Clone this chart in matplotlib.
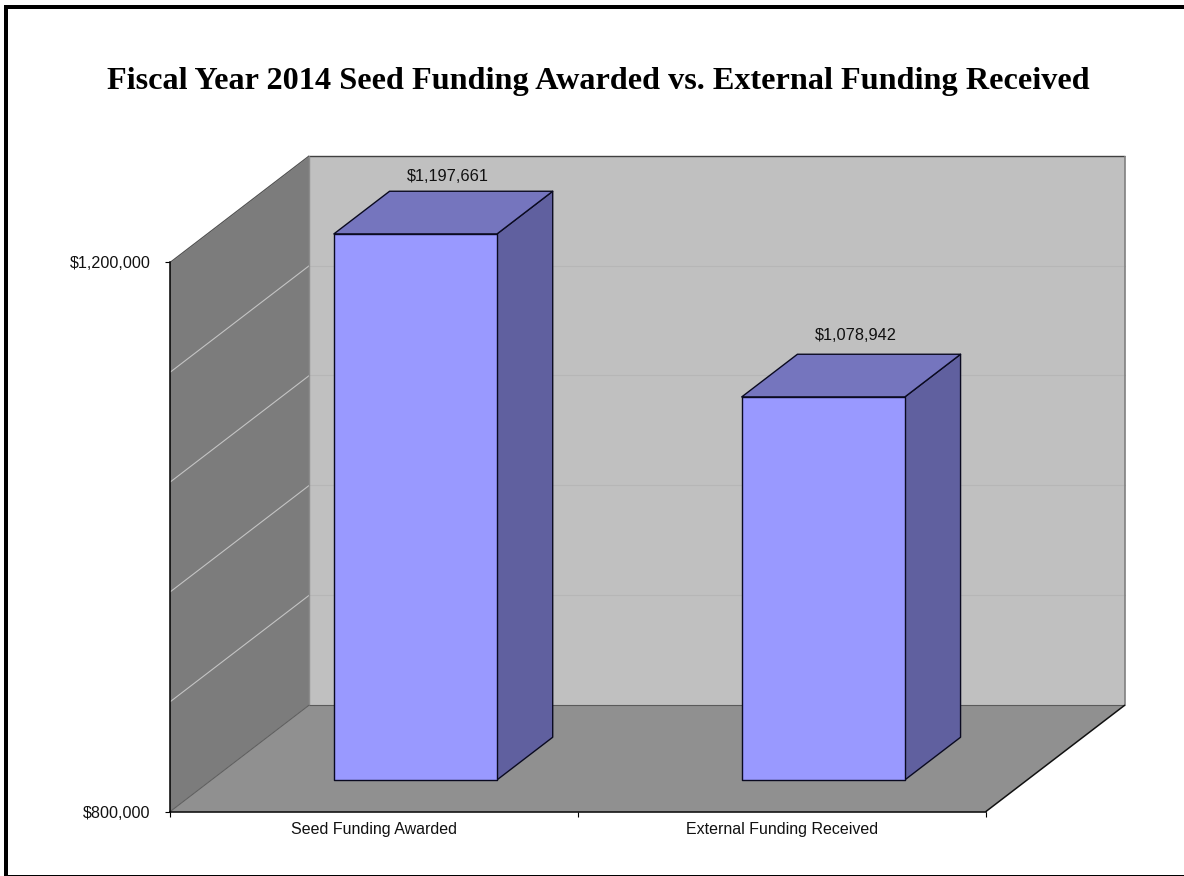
import matplotlib
matplotlib.use('Agg')
import matplotlib.pyplot as plt
from matplotlib.patches import Polygon, Rectangle
from matplotlib.ticker import FuncFormatter

categories = ['Seed Funding Awarded', 'External Funding Received']
values = [1197661, 1078942]
value_ticks = [800000, 1200000]
grid_values = [880000, 960000, 1040000, 1120000, 1200000]

Y_MIN, Y_MAX = 800000, 1200000
W, H = 1184, 876

# 3D look: how far the back of the box is shifted, in data units
DEPTH_X = 0.3415
DEPTH_Y = 77700
BAR_WIDTH = 0.4
BAR_FRONT, BAR_BACK = 0.298, 0.698

FACE = '#9999FF'
SIDE = '#60609F'
TOP = '#7575BE'
BACK_WALL = '#C0C0C0'
SIDE_WALL = '#7C7C7C'
FLOOR = '#909090'


def project(x, v, depth=0.0):
    return (x + depth * DEPTH_X, v + depth * DEPTH_Y)


def poly(ax, pts, color, edge='none', lw=0.0, z=1):
    p = Polygon(pts, closed=True, facecolor=color, edgecolor=edge, linewidth=lw,
                joinstyle='round', clip_on=False, zorder=z)
    ax.add_patch(p)


def line(ax, a, b, color, lw, z=2):
    ax.plot([a[0], b[0]], [a[1], b[1]], color=color, lw=lw, clip_on=False, zorder=z,
            solid_capstyle='butt')


def main():
    plt.rcParams['font.family'] = ['Liberation Sans', 'DejaVu Sans']

    fig = plt.figure(figsize=(W / 100, H / 100), dpi=100, facecolor='white')
    ax = fig.add_axes([170 / W, (H - 811.7) / H, 815.7 / W, 549.2 / H])
    ax.set_xlim(0, 2)
    ax.set_ylim(Y_MIN, Y_MAX)
    ax.patch.set_visible(False)

    # box walls and floor
    poly(ax, [project(0, Y_MIN, 1), project(2, Y_MIN, 1), project(2, Y_MAX, 1), project(0, Y_MAX, 1)], BACK_WALL)
    poly(ax, [project(0, Y_MIN), project(0, Y_MIN, 1), project(0, Y_MAX, 1), project(0, Y_MAX)], SIDE_WALL)
    poly(ax, [project(0, Y_MIN), project(2, Y_MIN), project(2, Y_MIN, 1), project(0, Y_MIN, 1)], FLOOR)

    # gridlines run along the side wall and across the back wall
    for v in grid_values:
        line(ax, project(0, v), project(0, v, 1), '#C4C4C4', 0.8)
        if v < Y_MAX:
            line(ax, project(0, v, 1), project(2, v, 1), '#B6B6B6', 0.8)

    # box edges
    line(ax, project(0, Y_MAX, 1), project(2, Y_MAX, 1), '#404040', 1.0)
    line(ax, project(0, Y_MAX), project(0, Y_MAX, 1), '#505050', 0.8)
    line(ax, project(0, Y_MIN, 1), project(0, Y_MAX, 1), '#8C8C8C', 1.0)
    line(ax, project(2, Y_MIN, 1), project(2, Y_MAX, 1), '#808080', 1.2)
    line(ax, project(0, Y_MIN, 1), project(2, Y_MIN, 1), '#5A5A5A', 0.8)
    line(ax, project(0, Y_MIN), project(0, Y_MIN, 1), '#5A5A5A', 0.7)
    line(ax, project(2, Y_MIN), project(2, Y_MIN, 1), '#111111', 1.1)

    # bars: front face, right side and top
    for i, val in enumerate(values):
        x0 = i + 0.5 - BAR_WIDTH / 2
        x1 = i + 0.5 + BAR_WIDTH / 2
        poly(ax, [project(x1, Y_MIN, BAR_FRONT), project(x1, Y_MIN, BAR_BACK),
                  project(x1, val, BAR_BACK), project(x1, val, BAR_FRONT)], SIDE, '#0A0A20', 1.0, 3)
        poly(ax, [project(x0, val, BAR_FRONT), project(x1, val, BAR_FRONT),
                  project(x1, val, BAR_BACK), project(x0, val, BAR_BACK)], TOP, '#0A0A20', 1.0, 3)
        poly(ax, [project(x0, Y_MIN, BAR_FRONT), project(x1, Y_MIN, BAR_FRONT),
                  project(x1, val, BAR_FRONT), project(x0, val, BAR_FRONT)], FACE, '#0A0A20', 1.0, 4)

        ax.annotate(f'${val:,}', xy=project(i + 0.5, val, 0.5), xytext=(4.5, [36, 40][i]),
                    textcoords='offset pixels', ha='center', va='center',
                    fontsize=11.8, color='#111111', zorder=5, annotation_clip=False)

    # axes: only the left and bottom lines show
    for side in ('top', 'right'):
        ax.spines[side].set_visible(False)
    for side in ('left', 'bottom'):
        ax.spines[side].set_color('black')
        ax.spines[side].set_linewidth(1.1)
        ax.spines[side].set_zorder(6)

    ax.set_yticks(value_ticks)
    ax.yaxis.set_major_formatter(FuncFormatter(lambda v, _: f'${int(v):,}'))
    ax.tick_params(axis='y', length=3.8, width=0.8, pad=10, labelsize=11.6, labelcolor='#111111')

    ax.set_xticks([0, 1, 2])
    ax.set_xticklabels([])
    ax.tick_params(axis='x', which='major', length=3.8, width=0.8)
    ax.set_xticks([0.5, 1.5], minor=True)
    ax.set_xticklabels(categories, minor=True)
    ax.tick_params(axis='x', which='minor', length=0, pad=7.5, labelsize=11.55, labelcolor='#111111')

    fig.text(598 / W, 1 - 82 / H, 'Fiscal Year 2014 Seed Funding Awarded vs. External Funding Received',
             ha='center', va='center', fontsize=23.2, fontweight='bold',
             family=['Liberation Serif', 'DejaVu Serif'], color='black')

    # chart frame, the right side runs off the edge
    for x, y, w, h in [(4, 5, 4, H - 5), (4, 5, W - 4, 4), (4, 875, W - 4, 1)]:
        fig.add_artist(Rectangle((x / W, 1 - (y + h) / H), w / W, h / H, transform=fig.transFigure,
                                 facecolor='black', edgecolor='none'))

    fig.savefig('out.png', dpi=100)
    plt.close(fig)


if __name__ == "__main__":
    main()
